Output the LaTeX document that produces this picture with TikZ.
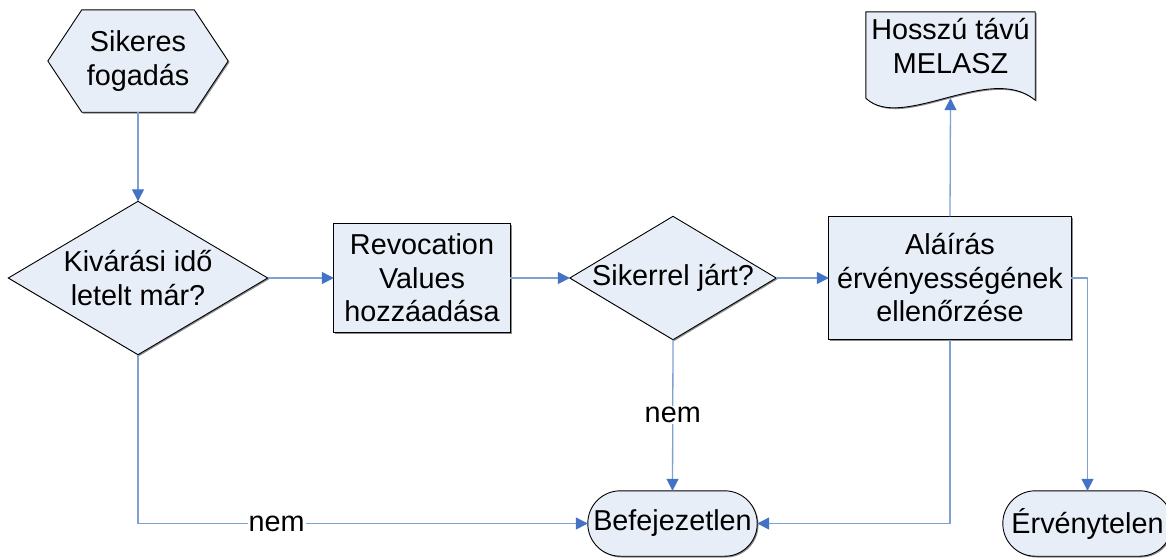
\documentclass[tikz,border=0pt]{standalone}
\usepackage{fontspec}
\setmainfont{Liberation Sans}
\usetikzlibrary{arrows.meta,calc,shadows}
\definecolor{fillblue}{RGB}{232,238,247}
\definecolor{linkblue}{RGB}{127,160,212}
\definecolor{tipblue}{RGB}{68,114,196}
\pgfdeclarelayer{bg}
\pgfsetlayers{bg,main}

\begin{document}
\begin{tikzpicture}[x=1pt,y=-1pt,
  txt/.style={font=\fontsize{28.8}{33.5}\selectfont, align=center, inner sep=0pt, text=black},
  frame/.style={draw=black, line width=0.9pt, fill=fillblue,
    drop shadow={shadow xshift=1.3pt, shadow yshift=-1.3pt, fill=black!45, opacity=1}},
  link/.style={draw=linkblue, line width=1.3pt,
    -{Triangle[length=12pt,width=12pt,fill=tipblue,color=tipblue]}},
  lab/.style={txt, fill=white, inner sep=1pt},
]
\useasboundingbox (0,0) rectangle (1166,558);

% nodes carrying the texts; their outlines are drawn on the background layer
\node[txt, minimum width=180pt, minimum height=102pt] (hex) at (138,61) {Sikeres\\fogadás};
\node[txt, minimum width=259pt, minimum height=153pt] (d1) at (138,278) {Kivárási idő\\letelt már?};
\node[txt, minimum width=176pt, minimum height=108pt] (rev) at (422,278) {Revocation\\Values\\hozzáadása};
\node[txt, minimum width=206pt, minimum height=123pt] (d2) at (673,278) {Sikerrel járt?};
\node[txt, minimum width=242pt, minimum height=123pt] (ala) at (950,278) {Aláírás\\érvényességének\\ellenőrzése};
\node[inner sep=0pt, minimum width=169pt, minimum height=86pt] (doc) at (950.5,55) {};
\node[txt] (doctxt) at (950.5,46) {Hosszú távú\\MELASZ};
\node[txt, minimum width=169pt, minimum height=65pt] (bef) at (672.5,523.5) {Befejezetlen};
\node[txt, minimum width=169pt, minimum height=65pt] (erv) at (1087.5,523.5) {Érvénytelen};

\begin{pgfonlayer}{bg}
  % preparation (hexagon)
  \path[frame] (hex.west) -- ($(hex.north west)+(34,0)$) -- ($(hex.north east)+(-34,0)$)
    -- (hex.east) -- ($(hex.south east)+(-34,0)$) -- ($(hex.south west)+(34,0)$) -- cycle;
  % decisions
  \path[frame] (d1.north) -- (d1.east) -- (d1.south) -- (d1.west) -- cycle;
  \path[frame] (d2.north) -- (d2.east) -- (d2.south) -- (d2.west) -- cycle;
  % processes
  \path[frame] (rev.north west) rectangle (rev.south east);
  \path[frame] (ala.north west) rectangle (ala.south east);
  % document with wavy lower edge
  \path[frame] (doc.south west) -- (doc.north west) -- (doc.north east)
    -- ($(doc.south east)+(0,2)$)
    .. controls ($(doc.south east)+(-45,-36)$) and ($(doc.south west)+(36,34)$) .. (doc.south west) -- cycle;
  % terminators
  \path[frame, rounded corners=32.5pt] (bef.north west) rectangle (bef.south east);
  \path[frame, rounded corners=32.5pt] (erv.north west) rectangle (erv.south east);
\end{pgfonlayer}

% connectors
\draw[link] (hex.south) -- (d1.north);
\draw[link] (d1.east) -- (rev.west);
\draw[link] (rev.east) -- (d2.west);
\draw[link] (d2.east) -- (ala.west);
\draw[link] (ala.north) -- (doc.south);
\draw[link] (d2.south) -- node[lab] (nem1) {nem} (bef.north);
\draw[link] (d1.south) |- node[lab, pos=0.654] (nem2) {nem} (bef.west);
\draw[link] (ala.south) |- (bef.east);
\draw[link] (ala.east) -| (erv.north);
\end{tikzpicture}
\end{document}
